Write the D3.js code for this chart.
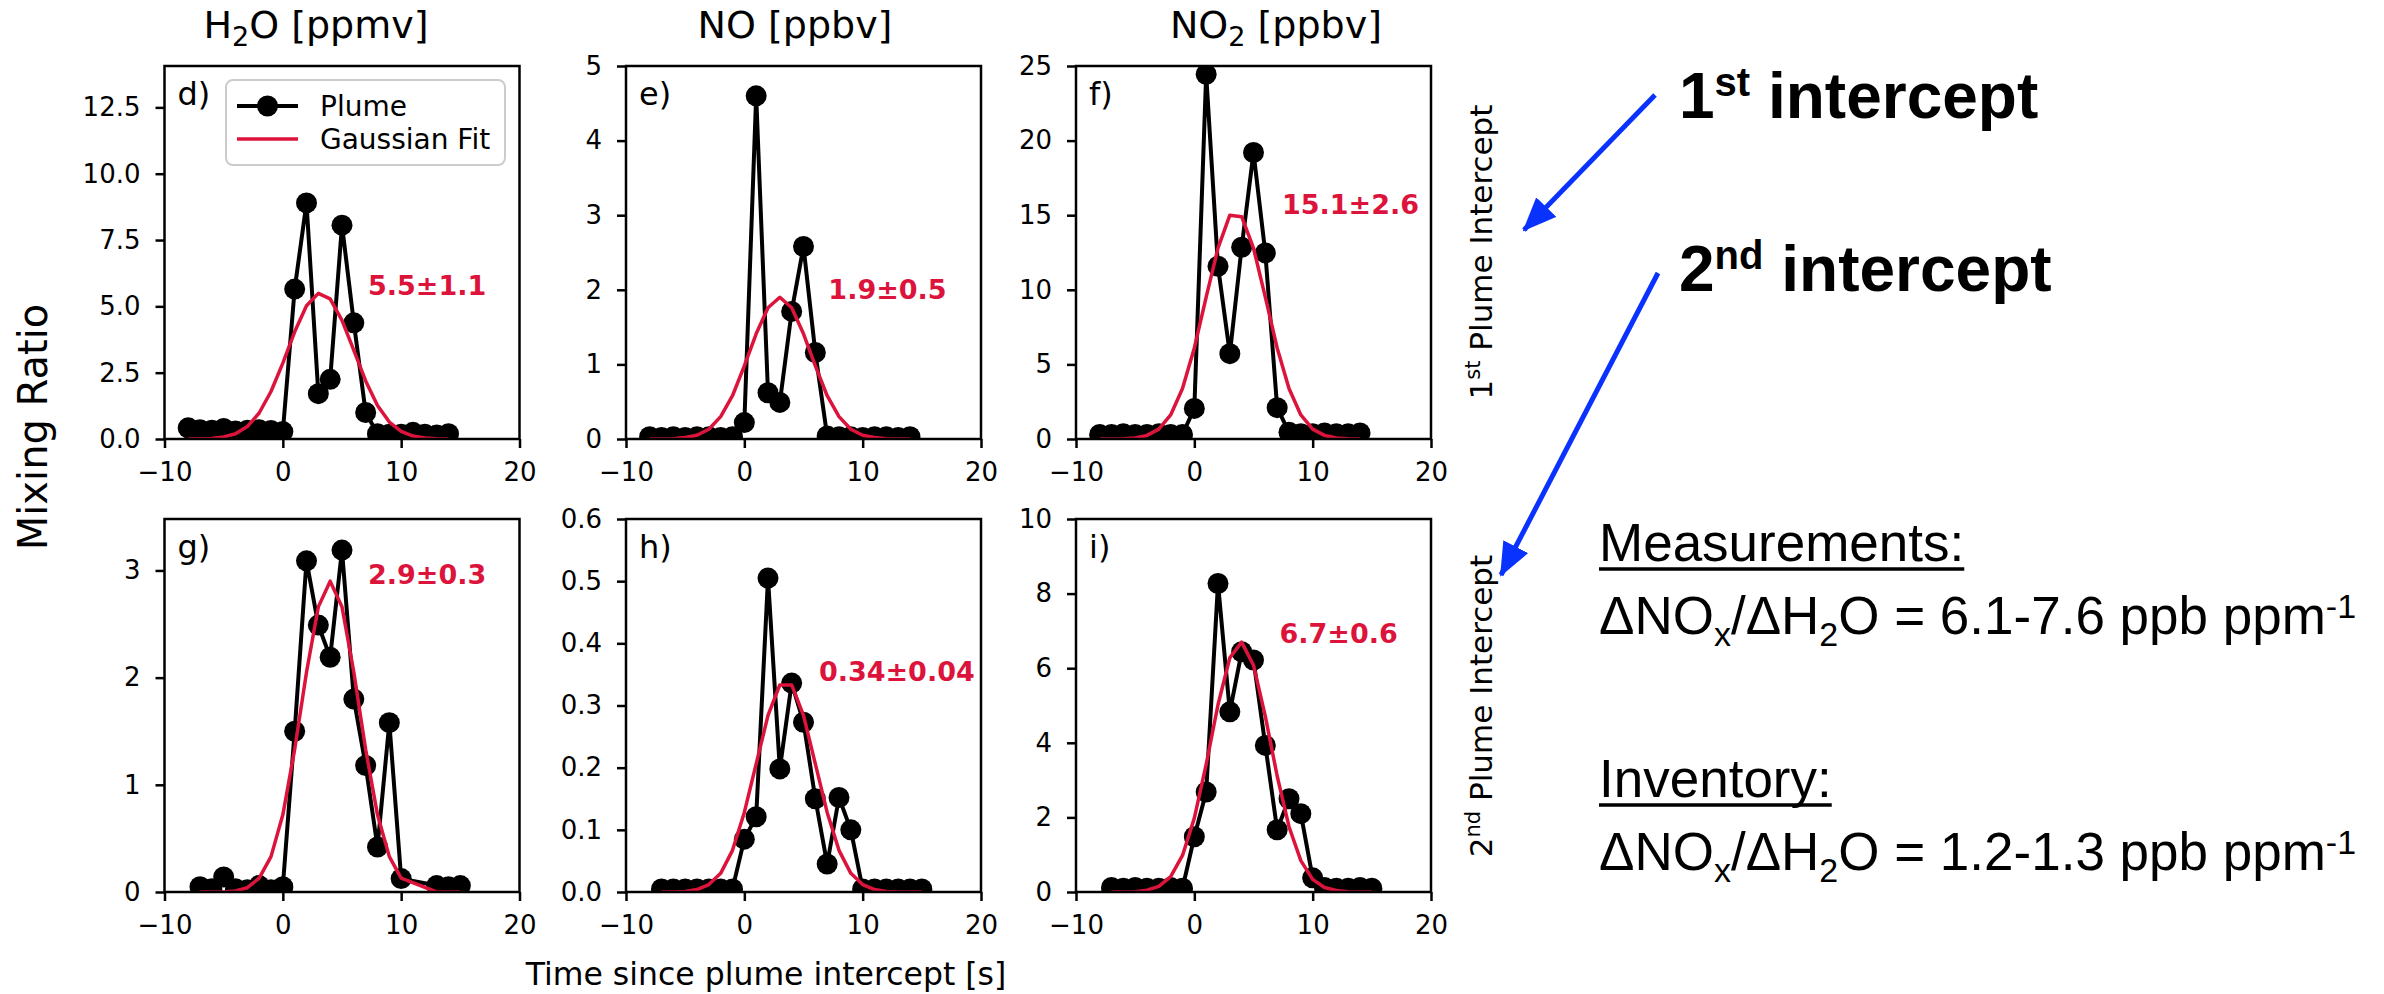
<!DOCTYPE html>
<html>
<head>
<meta charset="utf-8">
<script src="https://cdn.jsdelivr.net/npm/d3@7"></script>
<style>
  html, body { margin: 0; padding: 0; background: #fff; overflow: hidden; }
  svg { display: block; }
  text { font-family: "DejaVu Sans", sans-serif; fill: #000; }
  .slide text, text.slide { font-family: "Liberation Sans", Arial, sans-serif; }
</style>
</head>
<body>
<svg width="2384" height="994" viewBox="0 0 2384 994"></svg>
<script>
const svg = d3.select('svg');

// time since plume intercept [s]
const time1 = [-8, -7, -6, -5, -4, -3, -2, -1, 0, 1, 2, 3, 4, 5, 6, 7, 8, 9, 10, 11, 12, 13, 14];
const time2 = [-7, -6, -5, -4, -3, -2, -1, 0, 1, 2, 3, 4, 5, 6, 7, 8, 9, 10, 11, 12, 13, 14, 15];
const timeH2O2 = [-7, -6, -5, -4, -3, -2, -1, 0, 1, 2, 3, 4, 5, 6, 7, 8, 9, 10, 13, 14, 15];

// 1st intercept
const h2oPlume1 = [0.42, 0.35, 0.33, 0.40, 0.30, 0.33, 0.35, 0.32, 0.28, 5.65, 8.9, 1.71, 2.25, 8.06, 4.38, 1.0, 0.2, 0.18, 0.18, 0.25, 0.18, 0.15, 0.2];
const h2oFit1 = [0.0, 0.01, 0.02, 0.08, 0.2, 0.47, 0.98, 1.79, 2.86, 4.04, 5.02, 5.49, 5.28, 4.47, 3.34, 2.19, 1.26, 0.64, 0.29, 0.11, 0.04, 0.01, 0.0];
const noPlume1 = [0.03, 0.02, 0.03, 0.02, 0.03, 0.03, 0.02, 0.03, 0.22, 4.6, 0.62, 0.49, 1.71, 2.58, 1.16, 0.04, 0.03, 0.03, 0.02, 0.03, 0.03, 0.02, 0.03];
const noFit1 = [0.0, 0.0, 0.005, 0.02, 0.05, 0.13, 0.3, 0.58, 0.98, 1.41, 1.76, 1.9, 1.76, 1.41, 0.98, 0.58, 0.3, 0.13, 0.05, 0.02, 0.005, 0.0, 0.0];
const no2Plume1 = [0.3, 0.3, 0.35, 0.3, 0.3, 0.35, 0.3, 0.3, 2.05, 24.45, 11.58, 5.72, 12.85, 19.2, 12.47, 2.1, 0.45, 0.35, 0.35, 0.4, 0.35, 0.35, 0.4];
const no2Fit1 = [0.0, 0.0, 0.02, 0.07, 0.24, 0.66, 1.61, 3.38, 6.1, 9.51, 12.79, 15.0, 14.9, 12.79, 9.51, 6.1, 3.38, 1.61, 0.66, 0.24, 0.07, 0.02, 0.0];

// 2nd intercept
const h2oPlume2 = [0.05, 0.03, 0.14, 0.03, 0.02, 0.06, 0.02, 0.05, 1.5, 3.09, 2.49, 2.19, 3.19, 1.8, 1.18, 0.42, 1.58, 0.125, 0.06, 0.05, 0.06];
const h2oFit2 = [0.0, 0.0, 0.0, 0.01, 0.04, 0.13, 0.33, 0.72, 1.33, 2.05, 2.66, 2.9, 2.66, 2.05, 1.33, 0.72, 0.33, 0.13, 0.0, 0.0, 0.0];
const noPlume2 = [0.005, 0.005, 0.005, 0.005, 0.005, 0.005, 0.005, 0.085, 0.121, 0.505, 0.198, 0.336, 0.273, 0.15, 0.045, 0.152, 0.1, 0.005, 0.005, 0.005, 0.005, 0.005, 0.005];
const noFit2 = [0.0, 0.0, 0.001, 0.004, 0.012, 0.03, 0.067, 0.128, 0.206, 0.284, 0.333, 0.333, 0.284, 0.206, 0.128, 0.067, 0.03, 0.012, 0.004, 0.001, 0.0, 0.0, 0.0];
const no2Plume2 = [0.12, 0.1, 0.12, 0.1, 0.1, 0.12, 0.1, 1.48, 2.68, 8.27, 4.83, 6.44, 6.22, 3.93, 1.67, 2.5, 2.1, 0.38, 0.12, 0.1, 0.1, 0.12, 0.1];
const no2Fit2 = [0.0, 0.0, 0.01, 0.05, 0.15, 0.41, 0.98, 1.98, 3.42, 5.02, 6.28, 6.7, 6.08, 4.71, 3.11, 1.75, 0.84, 0.34, 0.12, 0.04, 0.01, 0.0, 0.0];

// axes
const xTicks = [-10, 0, 10, 20];
const h2oTicks1 = [0, 2.5, 5, 7.5, 10, 12.5];
const noTicks1 = [0, 1, 2, 3, 4, 5];
const no2Ticks1 = [0, 5, 10, 15, 20, 25];
const h2oTicks2 = [0, 1, 2, 3];
const noTicks2 = [0, 0.1, 0.2, 0.3, 0.4, 0.5, 0.6];
const no2Ticks2 = [0, 2, 4, 6, 8, 10];
const yMaxes = [14.06, 5, 25, 3.48, 0.6, 10];

const panelLetters = ['d)', 'e)', 'f)', 'g)', 'h)', 'i)'];
const fitLabels = ['5.5\u00b11.1', '1.9\u00b10.5', '15.1\u00b12.6', '2.9\u00b10.3', '0.34\u00b10.04', '6.7\u00b10.6'];
const fitLabelX = [7.2, 7.1, 7.4, 7.2, 6.3, 7.2];
const fitLabelY = [5.8, 2.0, 15.7, 2.96, 0.354, 6.94];

const red = '#dc143c';
const blue = '#0a32ff';

const panels = [
  { t: time1, plume: h2oPlume1, fit: h2oFit1, ticks: h2oTicks1, fmt: '.1f' },
  { t: time1, plume: noPlume1, fit: noFit1, ticks: noTicks1, fmt: 'd' },
  { t: time1, plume: no2Plume1, fit: no2Fit1, ticks: no2Ticks1, fmt: 'd' },
  { t: timeH2O2, plume: h2oPlume2, fit: h2oFit2, ticks: h2oTicks2, fmt: 'd' },
  { t: time2, plume: noPlume2, fit: noFit2, ticks: noTicks2, fmt: '.1f' },
  { t: time2, plume: no2Plume2, fit: no2Fit2, ticks: no2Ticks2, fmt: 'd' }
];

const colX = [164.5, 626, 1076];
const rowY = [66, 519];
const innerWidth = 355;
const innerHeight = 373;

const drawPanel = (props) => {
  const { g, p, i } = props;

  const xScale = d3.scaleLinear().domain([-10, 20]).range([0, innerWidth]);
  const yScale = d3.scaleLinear().domain([0, yMaxes[i]]).range([innerHeight, 0]);

  g.append('clipPath').attr('id', 'clip' + i)
    .append('rect').attr('width', innerWidth).attr('height', innerHeight);

  const plot = g.append('g').attr('clip-path', `url(#clip${i})`);
  const pts = p.t.map((t, k) => [t, p.plume[k]]);
  const fitPts = p.t.map((t, k) => [t, p.fit[k]]);
  const line = d3.line().x(d => xScale(d[0])).y(d => yScale(d[1]));

  plot.append('path').datum(pts)
    .attr('d', line)
    .attr('fill', 'none')
    .attr('stroke', '#000')
    .attr('stroke-width', 4)
    .attr('stroke-linejoin', 'round');
  plot.selectAll('circle').data(pts)
    .enter().append('circle')
      .attr('cx', d => xScale(d[0]))
      .attr('cy', d => yScale(d[1]))
      .attr('r', 10.5)
      .attr('fill', '#000');
  plot.append('path').datum(fitPts)
    .attr('d', line)
    .attr('fill', 'none')
    .attr('stroke', red)
    .attr('stroke-width', 3.5)
    .attr('stroke-linejoin', 'round');

  const xAxisG = g.append('g')
    .attr('transform', `translate(0,${innerHeight})`)
    .call(d3.axisBottom(xScale).tickValues(xTicks).tickFormat(d3.format('d'))
      .tickSize(9).tickSizeOuter(0).tickPadding(15));
  const yAxisG = g.append('g')
    .call(d3.axisLeft(yScale).tickValues(p.ticks).tickFormat(d3.format(p.fmt))
      .tickSize(9).tickSizeOuter(0).tickPadding(15));
  [xAxisG, yAxisG].forEach(a => {
    a.select('.domain').remove();
    a.selectAll('line').attr('stroke', '#000').attr('stroke-width', 2.5);
    a.selectAll('text').attr('font-size', 26).attr('fill', '#000')
      .attr('font-family', '"DejaVu Sans", sans-serif');
  });

  g.append('rect')
    .attr('width', innerWidth).attr('height', innerHeight)
    .attr('fill', 'none').attr('stroke', '#000').attr('stroke-width', 2.5);

  g.append('text')
    .attr('x', 13).attr('y', 39)
    .attr('font-size', 32)
    .text(panelLetters[i]);

  g.append('text')
    .attr('x', xScale(fitLabelX[i]))
    .attr('y', yScale(fitLabelY[i]))
    .attr('dominant-baseline', 'central')
    .attr('font-size', 27)
    .attr('font-weight', 'bold')
    .attr('fill', red)
    .style('fill', red)
    .text(fitLabels[i]);
};

const drawLegend = (g) => {
  const lg = g.append('g').attr('transform', 'translate(61.5,14)');
  lg.append('rect')
    .attr('width', 279).attr('height', 85).attr('rx', 7)
    .attr('fill', '#fff').attr('fill-opacity', 0.8)
    .attr('stroke', '#cccccc').attr('stroke-width', 2);
  lg.append('line').attr('x1', 11).attr('x2', 72).attr('y1', 26).attr('y2', 26)
    .attr('stroke', '#000').attr('stroke-width', 4);
  lg.append('circle').attr('cx', 41.5).attr('cy', 26).attr('r', 10.5).attr('fill', '#000');
  lg.append('line').attr('x1', 11).attr('x2', 72).attr('y1', 59).attr('y2', 59)
    .attr('stroke', red).attr('stroke-width', 3.5);
  lg.append('text').attr('x', 94).attr('y', 26).attr('dominant-baseline', 'central')
    .attr('font-size', 28).text('Plume');
  lg.append('text').attr('x', 94).attr('y', 59).attr('dominant-baseline', 'central')
    .attr('font-size', 28).text('Gaussian Fit');
};

const render = () => {
  panels.forEach((p, i) => {
    const g = svg.append('g')
      .attr('class', 'panel')
      .attr('transform', `translate(${colX[i % 3]},${rowY[Math.floor(i / 3)]})`);
    drawPanel({ g: g, p: p, i: i });
    if (i === 0) drawLegend(g);
  });

  // column titles
  const titles = [
    { x: 316, parts: [['H', 0, 38], ['2', 8, 27], ['O [ppmv]', -8, 38]] },
    { x: 795, parts: [['NO [ppbv]', 0, 38]] },
    { x: 1276, parts: [['NO', 0, 38], ['2', 8, 27], [' [ppbv]', -8, 38]] }
  ];
  titles.forEach(tt => {
    const t = svg.append('text').attr('x', tt.x).attr('y', 38)
      .attr('text-anchor', 'middle').attr('font-size', 38)
      .style('white-space', 'pre');
    tt.parts.forEach(pp => {
      t.append('tspan').attr('dy', pp[1]).attr('font-size', pp[2]).text(pp[0]);
    });
  });

  // row labels on the right
  [['1', 'st', 252], ['2', 'nd', 706]].forEach(r => {
    const t = svg.append('text')
      .attr('transform', `translate(1492,${r[2]}) rotate(-90)`)
      .attr('text-anchor', 'middle').attr('font-size', 31)
      .attr('fill', '#222')
      .style('white-space', 'pre');
    t.append('tspan').text(r[0]);
    t.append('tspan').attr('dy', -12).attr('font-size', 21).text(r[1]);
    t.append('tspan').attr('dy', 12).text(' Plume Intercept');
  });

  svg.append('text')
    .attr('transform', 'translate(47,427) rotate(-90)')
    .attr('text-anchor', 'middle').attr('font-size', 40)
    .text('Mixing Ratio');

  svg.append('text')
    .attr('x', 766).attr('y', 985)
    .attr('text-anchor', 'middle').attr('font-size', 31.5)
    .text('Time since plume intercept [s]');

  // slide annotations
  const slide = svg.append('g').attr('class', 'slide');
  const defs = svg.append('defs');
  defs.append('marker')
    .attr('id', 'head')
    .attr('markerUnits', 'userSpaceOnUse')
    .attr('markerWidth', 34).attr('markerHeight', 28)
    .attr('refX', 32).attr('refY', 14)
    .attr('orient', 'auto')
    .append('path').attr('d', 'M0,0 L34,14 L0,28 Z').attr('fill', blue);

  [[1655, 95, 1524, 230], [1658, 273, 1501, 575]].forEach(a => {
    slide.append('line')
      .attr('x1', a[0]).attr('y1', a[1]).attr('x2', a[2]).attr('y2', a[3])
      .attr('stroke', blue).attr('stroke-width', 5)
      .attr('marker-end', 'url(#head)');
  });

  [['1', 'st', 118], ['2', 'nd', 291]].forEach(r => {
    const t = slide.append('text')
      .attr('x', 1679).attr('y', r[2])
      .attr('font-size', 64).attr('font-weight', 'bold')
      .style('white-space', 'pre');
    t.append('tspan').text(r[0]);
    t.append('tspan').attr('dy', -22).attr('font-size', 40).text(r[1]);
    t.append('tspan').attr('dy', 22).text(' intercept');
  });

  const heading = (label, y) => {
    const t = slide.append('text').attr('x', 1599).attr('y', y)
      .attr('font-size', 53).text(label);
    const w = t.node().getComputedTextLength();
    slide.append('line')
      .attr('x1', 1599).attr('x2', 1599 + w)
      .attr('y1', y + 8).attr('y2', y + 8)
      .attr('stroke', '#000').attr('stroke-width', 3.5);
  };
  const ratio = (value, y) => {
    const t = slide.append('text').attr('x', 1599).attr('y', y)
      .attr('font-size', 53).style('white-space', 'pre');
    t.append('tspan').text('\u0394NO');
    t.append('tspan').attr('dy', 12).attr('font-size', 34).text('x');
    t.append('tspan').attr('dy', -12).text('/\u0394H');
    t.append('tspan').attr('dy', 12).attr('font-size', 34).text('2');
    t.append('tspan').attr('dy', -12).text('O = ' + value + ' ppb ppm');
    t.append('tspan').attr('dy', -16).attr('font-size', 34).text('-1');
  };
  heading('Measurements:', 561);
  ratio('6.1-7.6', 634);
  heading('Inventory:', 797);
  ratio('1.2-1.3', 870);
};

render();
</script>
</body>
</html>
